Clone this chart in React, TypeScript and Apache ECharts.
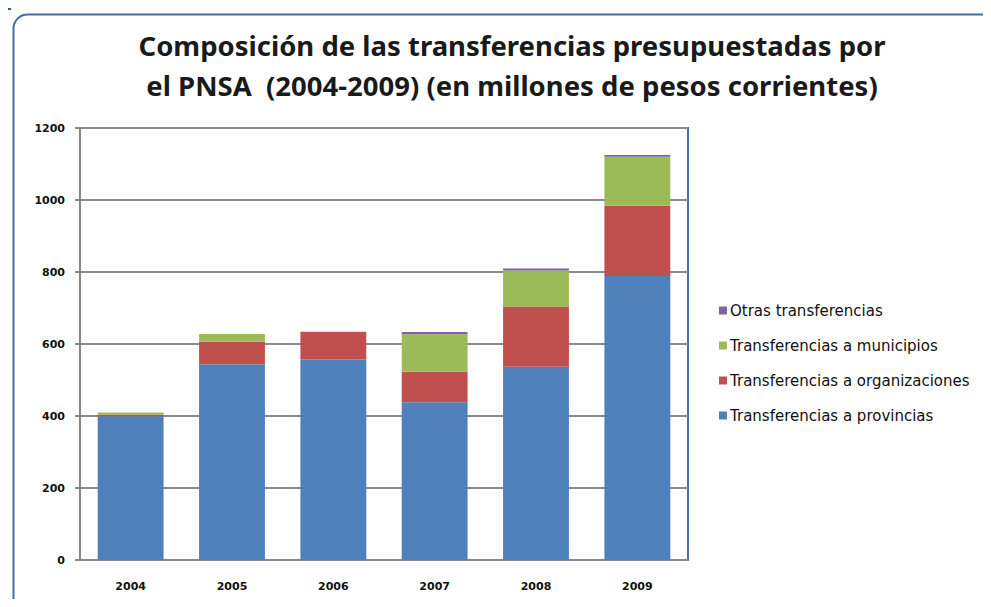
import React, { useEffect, useRef } from "react";
import * as echarts from "echarts";

const categories = ["2004", "2005", "2006", "2007", "2008", "2009"];
const provincias = [399, 544, 557, 438, 537, 789];
const organizaciones = [5, 62, 77, 85, 167, 195];
const municipios = [6, 22, 0, 104, 100, 136];
const otras = [0, 0, 0, 6, 6, 5];
const yTicks = [0, 200, 400, 600, 800, 1000, 1200];

const TITLE_FONT = "'Noto Sans', 'Liberation Sans', sans-serif";
const SMALL_FONT = "'DejaVu Sans', sans-serif";

export default function App() {
  const ref = useRef<HTMLDivElement>(null);
  useEffect(() => {
    if (!ref.current) return;
    const chart = echarts.init(ref.current, null, { renderer: "svg" });
    const mk = (name: string, data: number[], color: string) => ({
      name,
      type: "bar",
      stack: "t",
      data,
      barWidth: "65%",
      itemStyle: { color },
    });
    chart.setOption({
      animation: false,
      backgroundColor: "#fff",
      title: {
        text: "Composición de las transferencias presupuestadas por\nel PNSA  (2004-2009) (en millones de pesos corrientes)",
        left: 507,
        top: 20,
        textAlign: "center",
        textStyle: {
          fontFamily: TITLE_FONT,
          fontSize: 27.5,
          fontWeight: "bold",
          color: "#1a1a1a",
          lineHeight: 40,
        },
      },
      legend: {
        orient: "vertical",
        left: 714,
        top: 298,
        itemGap: 20,
        itemWidth: 8,
        itemHeight: 8,
        icon: "rect",
        textStyle: { fontFamily: SMALL_FONT, fontSize: 15, color: "#111", padding: [0, 0, 0, -2] },
        data: [
          "Otras transferencias",
          "Transferencias a municipios",
          "Transferencias a organizaciones",
          "Transferencias a provincias",
        ],
      },
      grid: { left: 80, top: 128, right: 303, bottom: 47, show: true, borderColor: "#4a6fa5", borderWidth: 2 },
      xAxis: {
        type: "category",
        data: categories,
        axisLine: { lineStyle: { color: "#888", width: 2 } },
        axisTick: { show: false },
        axisLabel: { fontFamily: SMALL_FONT, fontSize: 11, fontWeight: "bold", color: "#111", margin: 21 },
      },
      yAxis: {
        type: "value",
        min: yTicks[0],
        max: yTicks[yTicks.length - 1],
        interval: 200,
        axisLine: { show: true, lineStyle: { color: "#888", width: 2 } },
        axisTick: { show: true, length: 5, lineStyle: { color: "#888", width: 2 } },
        splitLine: { lineStyle: { color: "#8c8c8c", width: 2 } },
        axisLabel: {
          fontFamily: SMALL_FONT,
          fontSize: 11,
          fontWeight: "bold",
          color: "#111",
          margin: 15,
          formatter: (v: number) => String(v),
        },
      },
      series: [
        mk("Transferencias a provincias", provincias, "#4F81BD"),
        mk("Transferencias a organizaciones", organizaciones, "#C0504D"),
        mk("Transferencias a municipios", municipios, "#9BBB59"),
        mk("Otras transferencias", otras, "#8064A2"),
      ],
      graphic: [
        {
          type: "rect",
          left: 11,
          top: 12,
          shape: { width: 1000, height: 620, r: 14 },
          style: { fill: "none", stroke: "#4a6a9a", lineWidth: 2 },
          silent: true,
        },
      ],
    });
    return () => chart.dispose();
  }, []);
  return (
    <div style={{ position: "relative", width: 991, height: 607, margin: -8 }}>
      <div ref={ref} style={{ width: 991, height: 607 }} />
      <div
        style={{
          position: "absolute",
          left: 0,
          top: 0,
          width: 11,
          height: 10,
          background: "#2f5597",
        }}
      />
    </div>
  );
}
